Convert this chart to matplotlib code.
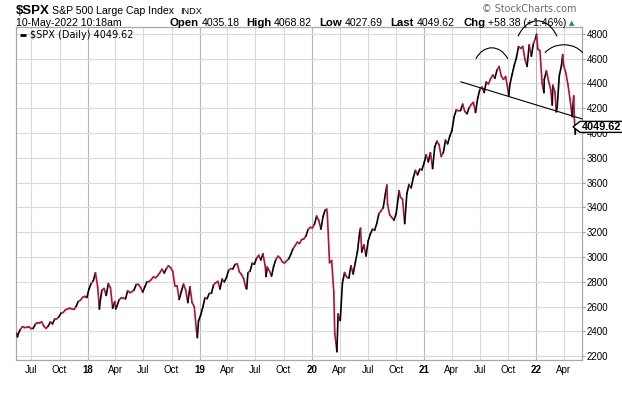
import numpy as np
import pandas as pd
import matplotlib
matplotlib.use("Agg")
import matplotlib.pyplot as plt
import matplotlib.dates as mdates
import matplotlib.transforms as mtransforms
from matplotlib.collections import LineCollection
from matplotlib.patches import Arc, Polygon

# ---------------- data (weekly closes) ----------------
close_2017 = [2390, 2381, 2415, 2439, 2432, 2433, 2438, 2423, 2425, 2459, 2472, 2472,
              2476, 2441, 2425, 2443, 2477, 2461, 2500, 2502, 2519, 2549, 2553, 2575,
              2581, 2588, 2582, 2578, 2602, 2642, 2652, 2675, 2683, 2674]
close_2018 = [2743, 2786, 2810, 2873, 2762, 2620, 2732, 2747, 2691, 2786, 2752, 2588,
              2641, 2604, 2656, 2670, 2670, 2663, 2728, 2713, 2721, 2735, 2779, 2780,
              2755, 2718, 2760, 2801, 2802, 2819, 2840, 2833, 2850, 2875, 2902, 2872,
              2905, 2930, 2914, 2885, 2767, 2768, 2658, 2723, 2781, 2736, 2633, 2760,
              2633, 2600, 2417, 2486]
close_2019 = [2532, 2596, 2671, 2665, 2707, 2708, 2776, 2793, 2804, 2743, 2822, 2800,
              2834, 2893, 2907, 2905, 2940, 2946, 2881, 2860, 2826, 2752, 2873, 2887,
              2950, 2942, 2990, 3014, 2977, 3026, 2932, 2919, 2889, 2847, 2926, 2979,
              3007, 2992, 2962, 2952, 2970, 2986, 3023, 3067, 3093, 3120, 3110, 3141,
              3146, 3169, 3221, 3240]
close_2020 = [3235, 3265, 3330, 3295, 3226, 3328, 3380, 3338, 2954, 2972, 2711, 2305,
              2541, 2489, 2790, 2875, 2837, 2831, 2930, 2864, 2955, 3044, 3194, 3041,
              3098, 3009, 3130, 3185, 3225, 3216, 3271, 3351, 3373, 3397, 3508, 3427,
              3341, 3319, 3298, 3348, 3477, 3484, 3465, 3270, 3510, 3585, 3558, 3638,
              3699, 3663, 3709, 3703]
close_2021 = [3756, 3825, 3768, 3841, 3714, 3887, 3934, 3907, 3811, 3842, 3943, 3913,
              3975, 4020, 4129, 4185, 4180, 4181, 4233, 4174, 4156, 4204, 4230, 4247,
              4166, 4281, 4352, 4370, 4327, 4412, 4395, 4437, 4468, 4442, 4509, 4535,
              4459, 4433, 4455, 4357, 4391, 4471, 4545, 4605, 4697, 4683, 4698, 4595,
              4538, 4712, 4620, 4726, 4766]
close_2022 = [4677, 4663, 4398, 4432, 4501, 4419, 4349, 4385, 4329, 4204, 4463, 4543,
              4546, 4488, 4393, 4272, 4132, 4123]
week_starts = ["2017-05-12", "2018-01-05", "2019-01-04", "2020-01-03", "2021-01-01", "2022-01-07"]

# daily extremes visible in the chart
extra_dates = ["2017-05-17", "2018-02-08", "2018-04-02", "2018-12-24", "2019-06-03",
               "2019-08-05", "2020-02-19", "2020-03-16", "2020-03-23", "2020-06-08",
               "2020-09-02", "2020-10-12", "2021-10-04", "2022-01-03", "2022-01-27",
               "2022-02-23", "2022-03-08", "2022-03-29", "2022-05-04", "2022-05-09",
               "2022-05-10"]
extra_values = [2357, 2581, 2582, 2351, 2744, 2844, 3386, 2386, 2237, 3232, 3580, 3535,
                4300, 4796, 4326, 4226, 4171, 4632, 4300, 3991, 4050]

last_value = 4049.62
y_ticks = [2200, 2400, 2600, 2800, 3000, 3200, 3400, 3600, 3800, 4000, 4200, 4400, 4600, 4800]

# head & shoulders annotation (date, price)
neck_dates = ["2021-05-01", "2022-05-31"]
neck_prices = [4413, 4114]
arc_centers = ["2021-08-10", "2022-01-06", "2022-04-02"]
arc_base = [4479, 4611, 4560]
arc_width_days = [127, 155, 151]
arc_height = [416, 587, 303]

# ---------------- build series ----------------
yearly = [close_2017, close_2018, close_2019, close_2020, close_2021, close_2022]
frames = []
for start, vals in zip(week_starts, yearly):
    idx = pd.date_range(start, periods=len(vals), freq="W-FRI")
    frames.append(pd.Series(vals, index=idx, dtype=float))
frames.append(pd.Series(extra_values, index=pd.to_datetime(extra_dates), dtype=float))
series = pd.concat(frames).sort_index()
series = series[~series.index.duplicated(keep="last")]

W, H = 622, 395
fig = plt.figure(figsize=(W / 100, H / 100), dpi=100)
fig.patch.set_facecolor("white")

def fx(x):
    return x / W

def fy(y):
    return 1 - y / H

ax = fig.add_axes([fx(16), fy(360), fx(582) - fx(16), fy(27) - fy(360)])

xn = mdates.date2num(series.index.to_pydatetime())
yv = series.values
pts = np.column_stack([xn, yv])
segs = np.stack([pts[:-1], pts[1:]], axis=1)
RED = "#b0103c"
dt = np.maximum(np.diff(xn), 1.0)
weekly_rate = (yv[1:] - yv[:-1]) / yv[:-1] / dt * 7
cols = ["black" if r > 0.01 else RED for r in weekly_rate]
lc = LineCollection(segs, colors=cols, linewidths=1.2, zorder=3, capstyle="round", joinstyle="round")
ax.add_collection(lc)

ax.set_xlim(pd.Timestamp("2017-05-12"), pd.Timestamp("2022-05-31"))
ax.set_ylim(2170, 4855)

# grid
quarters = pd.date_range("2017-07-01", "2022-04-01", freq="QS")
qlabels = [f"{d.year % 100:02d}" if d.month == 1 else d.strftime("%b") for d in quarters]
ax.set_xticks(quarters)
ax.set_xticklabels(qlabels)
for lab, d in zip(ax.get_xticklabels(), quarters):
    lab.set_fontfamily("Liberation Sans")
    lab.set_fontsize(7)
    if d.month == 1:
        lab.set_fontweight("bold")
for d in quarters:
    ax.axvline(d, color="#b5b5b5" if d.month == 1 else "#dadada", lw=0.8, zorder=1)
ax.set_yticks(y_ticks)
ax.set_yticklabels([str(v) for v in y_ticks], fontfamily="Liberation Sans", fontsize=7)
for v in y_ticks:
    ax.axhline(v, color="#dadada", lw=0.8, zorder=1)
ax.yaxis.tick_right()
ax.tick_params(axis="y", length=2, pad=1.5, color="#999999", colors="black")
ax.tick_params(axis="x", length=0, pad=3.5, colors="black")
for s in ax.spines.values():
    s.set_color("#a8a8a8")
    s.set_linewidth(0.9)

# head & shoulders drawing
nd = mdates.date2num(pd.to_datetime(neck_dates).to_pydatetime())
ax.plot(nd, neck_prices, color="black", lw=0.8, zorder=4, clip_on=False)

def true_angle(phi_deg, ratio):
    phi = np.deg2rad(phi_deg)
    return np.rad2deg(np.arctan2(np.sin(phi), ratio * np.cos(phi)))

for c, b, w, h in zip(arc_centers, arc_base, arc_width_days, arc_height):
    cx = mdates.date2num(pd.Timestamp(c).to_pydatetime())
    r = w / h
    arc = Arc((cx, b), w, h, theta1=true_angle(35, r), theta2=true_angle(145, r),
              color="black", lw=0.8, zorder=4, clip_on=False)
    ax.add_patch(arc)

# legend
ax.plot([fx(20), fx(26)], [fy(34.5), fy(34.5)], transform=fig.transFigure, color="black", lw=2.0,
        solid_capstyle="butt")
fig.text(fx(30), fy(38), "$SPX (Daily) 4049.62", fontfamily="DejaVu Sans", fontsize=7,
         va="baseline", ha="left")

# header
fig.text(fx(16), fy(13.5), "$SPX", fontfamily="Liberation Sans", fontweight="bold", fontsize=9.5,
         va="baseline")
fig.text(fx(52), fy(13.5), "S&P 500 Large Cap Index", fontfamily="Liberation Sans", fontsize=7.6,
         va="baseline")
fig.text(fx(180), fy(13.5), "INDX", fontfamily="Liberation Sans", fontsize=6.6, va="baseline")
fig.text(fx(16), fy(26.5), "10-May-2022 10:18am", fontfamily="Liberation Sans", fontsize=7.6,
         va="baseline")
fig.text(fx(576), fy(12), "\u00a9 StockCharts.com", fontfamily="DejaVu Sans", fontsize=6.9,
         color="#6b6b6b", va="baseline", ha="right")

renderer = fig.canvas.get_renderer()
pairs = [("Open", "4035.18", 170), ("High", "4068.82", 246), ("Low", "4027.69", 319),
         ("Last", "4049.62", 390), ("Chg", "+58.38 (+1.46%)", 463)]
for lab, val, x in pairs:
    t = fig.text(fx(x), fy(26.5), lab, fontfamily="Liberation Sans", fontweight="bold",
                 fontsize=8.2, va="baseline")
    bb = t.get_window_extent(renderer)
    fig.text((bb.x1 + 3) / W, fy(26.5), val, fontfamily="Liberation Sans", fontsize=7.6,
             va="baseline")
fig.text(fx(572), fy(25.5), "\u25b2", fontfamily="DejaVu Sans", fontsize=5, color="#2e8b3a",
         va="baseline", ha="center")

# last price box
trans = mtransforms.blended_transform_factory(fig.transFigure, ax.transData)
pt = fig.text(fx(582), 0, "4049.62", fontfamily="Liberation Sans", fontweight="bold", fontsize=7.8,
              va="center", ha="left", zorder=11)
pt.set_transform(trans)
pt.set_y(last_value)
bb = pt.get_window_extent(renderer)
ymid = (bb.y0 + bb.y1) / 2
x0, x1 = bb.x0 - 2, bb.x1 + 2
hh = 5.5
poly = Polygon([[x0 - 7, ymid], [x0, ymid + hh], [x1, ymid + hh], [x1, ymid - hh], [x0, ymid - hh]],
               closed=True, transform=None, facecolor="white", edgecolor="black", lw=1.0, zorder=10)
fig.patches.append(poly)

fig.savefig("out.png", dpi=100, facecolor="white")
